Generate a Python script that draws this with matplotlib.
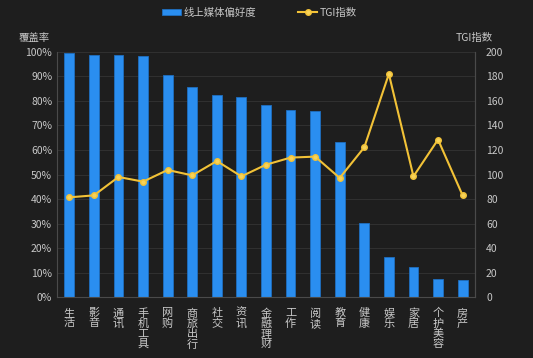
import matplotlib
matplotlib.use("Agg")
import matplotlib.pyplot as plt
import numpy as np
from matplotlib.ticker import FuncFormatter

plt.rcParams['font.family'] = ['Noto Sans CJK SC', 'DejaVu Sans']

categories = ["生活", "影音", "通讯", "手机工具", "网购", "商旅出行", "社交", "资讯",
              "金融理财", "工作", "阅读", "教育", "健康", "娱乐", "家居", "个护美容", "房产"]
coverage = [99.5, 98.9, 98.6, 98.2, 90.6, 85.8, 82.4, 81.6, 78.2, 76.5, 76.0,
            63.1, 30.2, 16.3, 12.1, 7.3, 7.1]
tgi = [81.4, 83.0, 98.0, 94.2, 103.7, 99.3, 111.0, 98.5, 108.0, 113.8, 114.6,
       97.2, 122.2, 182.0, 98.5, 128.5, 83.0]

bg = "#1e1e1e"
txt = "#c8c8c8"
bar_c = "#2a8ef0"
line_c = "#f2c237"
grid_c = "#303030"

fig = plt.figure(figsize=(5.33, 3.58), dpi=100, facecolor=bg)
ax = fig.add_axes([0.107, 0.170, 0.784, 0.685], facecolor=bg)
x = np.arange(len(categories))
bars = ax.bar(x, coverage, width=0.4, color=bar_c, edgecolor="#1f6fc0", linewidth=0.6,
              label="线上媒体偏好度", zorder=2)
ax.set_ylim(0, 100)
ax.set_xlim(-0.5, len(categories) - 0.5)
ax.set_yticks(np.arange(0, 101, 10))
ax.yaxis.set_major_formatter(FuncFormatter(lambda v, p: f"{int(v)}%"))
ax.grid(axis='y', color=grid_c, linewidth=0.8, zorder=0)
ax.set_xticks(x)
ax.set_xticklabels(["\n".join(c) for c in categories], linespacing=1.0)
ax.tick_params(axis='y', colors=txt, labelsize=7.5, length=0)
ax.tick_params(axis='x', colors=txt, labelsize=8, length=0, pad=8)
ax.spines['top'].set_visible(False)
for s in ['left', 'bottom', 'right']:
    ax.spines[s].set_color("#4a4a4a")
    ax.spines[s].set_linewidth(0.8)
for lab in ax.get_xticklabels():
    lab.set_verticalalignment('top')

ax2 = ax.twinx()
ln, = ax2.plot(x, tgi, color=line_c, linewidth=1.5, marker='o', markersize=4,
               markerfacecolor="#f7d35a", markeredgecolor=line_c, label="TGI指数", zorder=3)
ax2.set_ylim(0, 200)
ax2.set_yticks(np.arange(0, 201, 20))
ax2.tick_params(axis='y', colors=txt, labelsize=7.5, length=0, pad=8)
ax2.spines['top'].set_visible(False)
ax2.spines['left'].set_visible(False)
ax2.spines['bottom'].set_visible(False)
ax2.spines['right'].set_color("#4a4a4a")
ax2.spines['right'].set_linewidth(0.8)

fig.text(0.035, 0.895, "覆盖率", color=txt, fontsize=7.5, ha='left', va='center')
fig.text(0.925, 0.895, "TGI指数", color=txt, fontsize=7.5, ha='right', va='center')

leg = fig.legend([bars, ln], ["线上媒体偏好度", "TGI指数"], loc='center', bbox_to_anchor=(0.487, 0.965),
                 ncol=2, frameon=False, fontsize=7.5, labelcolor=txt, handlelength=1.8,
                 handleheight=0.6, columnspacing=4, handletextpad=0.3)

fig.savefig("out.png", dpi=100, facecolor=bg)
